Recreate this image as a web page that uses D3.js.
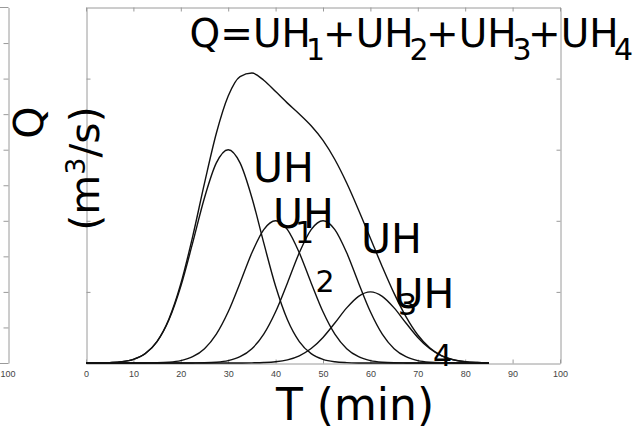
<!DOCTYPE html>
<html><head><meta charset="utf-8">
<script src="https://cdn.jsdelivr.net/npm/d3@7"></script>
<style>body{margin:0;background:#fff} svg{display:block}</style>
</head><body>
<svg id="c" width="635" height="437"></svg>
<script>
// ---- data ----
const times = [0,2.5,5,7.5,10,12.5,15,17.5,20,22.5,25,27.5,30,32.5,35,37.5,40,42.5,45,47.5,50,52.5,55,57.5,60,62.5,65,67.5,70,72.5,75,77.5,80,82.5,85];
const uh1 = [0,0,0.005,0.017,0.051,0.132,0.302,0.609,1.08,1.689,2.325,2.814,3.0,2.814,2.325,1.689,1.08,0.609,0.302,0.132,0.051,0.017,0.005,0.001,0,0,0,0,0,0,0,0,0,0,0];
const uh2 = [0,0,0,0,0,0.001,0.003,0.011,0.034,0.088,0.201,0.406,0.72,1.126,1.55,1.876,2.0,1.876,1.55,1.126,0.72,0.406,0.201,0.088,0.034,0.011,0.003,0.001,0,0,0,0,0,0,0];
const uh3 = [0,0,0,0,0,0,0,0,0,0.001,0.003,0.011,0.034,0.088,0.201,0.406,0.72,1.126,1.55,1.876,2.0,1.876,1.55,1.126,0.72,0.406,0.201,0.088,0.034,0.011,0.003,0.001,0,0,0];
const uh4 = [0,0,0,0,0,0,0,0,0,0,0,0,0,0,0.002,0.006,0.017,0.044,0.101,0.203,0.36,0.563,0.775,0.938,1.0,0.938,0.775,0.563,0.36,0.203,0.101,0.044,0.017,0.006,0.002];
const qSum = [0,0,0.005,0.017,0.051,0.133,0.305,0.62,1.114,1.778,2.529,3.231,3.754,4.028,4.078,3.977,3.817,3.655,3.503,3.337,3.131,2.862,2.531,2.153,1.754,1.355,0.979,0.652,0.394,0.214,0.104,0.045,0.017,0.006,0.002];
const seriesNames = ['Q','UH1','UH2','UH3','UH4'];
const xTicks = [0,10,20,30,40,50,60,70,80,90,100];
const yTicks = [1,2,3,4];
const leftTicks = [1,2,3,4,5,6,7,8,9];
const leftXLabel = ['100'];

// ---- chart ----
const svg = d3.select('#c');
const frame = '#9a9a9a';
const x = d3.scaleLinear().domain([0,100]).range([86,560]);
const y = d3.scaleLinear().domain([0,5]).range([363,7.5]);
const yL = d3.scaleLinear().domain([0,10]).range([363,7.5]);

function styleAxis(g){
  g.selectAll('path.domain').attr('stroke',frame).attr('stroke-width',1);
  g.selectAll('.tick line').attr('stroke',frame).attr('stroke-width',1);
  g.selectAll('text').attr('font-family','Liberation Sans, Arial, sans-serif').attr('font-size',9).attr('fill','#444');
}

// partial chart at the left edge
const gLeft = svg.append('g').attr('transform','translate(8.5,0)')
  .call(d3.axisRight(yL).tickValues(leftTicks).tickSizeInner(-5).tickSizeOuter(0).tickFormat(''));
styleAxis(gLeft);
svg.append('line').attr('x1',0).attr('x2',8.5).attr('y1',363.5).attr('y2',363.5).attr('stroke',frame);
svg.append('line').attr('x1',0).attr('x2',8.5).attr('y1',7.5).attr('y2',7.5).attr('stroke',frame);
svg.append('text').attr('x',8).attr('y',376.5).attr('text-anchor','middle')
  .attr('font-family','Liberation Sans, Arial, sans-serif').attr('font-size',9).attr('fill','#444').text(leftXLabel[0]);

// main frame axes
const gB = svg.append('g').attr('transform','translate(0,363.5)')
  .call(d3.axisBottom(x).tickValues(xTicks).tickSizeInner(-4).tickSizeOuter(0).tickPadding(7));
styleAxis(gB);
const gT = svg.append('g').attr('transform','translate(0,7.5)')
  .call(d3.axisTop(x).tickValues(xTicks).tickSizeInner(-4).tickSizeOuter(0).tickFormat(''));
styleAxis(gT);
const gLf = svg.append('g').attr('transform','translate(86.5,0)')
  .call(d3.axisLeft(y).tickValues(yTicks).tickSizeInner(-4).tickSizeOuter(0).tickFormat(''));
styleAxis(gLf);
const gR = svg.append('g').attr('transform','translate(560.5,0)')
  .call(d3.axisRight(y).tickValues(yTicks).tickSizeInner(-4).tickSizeOuter(0).tickFormat(''));
styleAxis(gR);

// curves
const line = d3.line().x((d,i)=>x(times[i])).y(d=>y(d)).curve(d3.curveMonotoneX);
const allSeries = [qSum, uh1, uh2, uh3, uh4];
svg.append('g').selectAll('path').data(allSeries).join('path')
  .attr('d', d=>line(d)).attr('fill','none').attr('stroke','#111').attr('stroke-width',1.4)
  .attr('data-name',(d,i)=>seriesNames[i]);

// text
const F = 'DejaVu Sans, Verdana, sans-serif';
function put(t, px, py, size){
  svg.append('text').attr('x',px).attr('y',py).attr('font-family',F).attr('font-size',size).attr('fill','#000').text(t);
}
// title Q=UH1+UH2+UH3+UH4
put('Q=UH',189.5,47,39); put('1',306,60,30);
put('+UH',323,47,39); put('2',409.5,60,30);
put('+UH',426,47,39); put('3',512.5,60,30);
put('+UH',528,47,39); put('4',614,60,30);

// UH labels in plot
put('UH',253,182,41); put('1',295,243,30);
put('UH',273,228,41); put('2',315.5,292,30);
put('UH',361,253,41); put('3',398,315,30);
put('UH',393.5,308,41); put('4',433,366,30);

// axis titles
svg.append('text').attr('transform','translate(43,122.5) rotate(-90)').attr('text-anchor','middle')
  .attr('font-family',F).attr('font-size',41).attr('fill','#000').text('Q');
const yl = svg.append('text').attr('transform','translate(99,168.5) rotate(-90)').attr('text-anchor','middle')
  .attr('font-family',F).attr('font-size',41).attr('fill','#000');
yl.append('tspan').text('(m');
yl.append('tspan').attr('font-size',27).attr('dy',-14).text('3');
yl.append('tspan').attr('dy',14).text('/s)');
svg.append('text').attr('x',355).attr('y',420).attr('text-anchor','middle')
  .attr('font-family',F).attr('font-size',44).attr('fill','#000').text('T (min)');
</script>
</body></html>
